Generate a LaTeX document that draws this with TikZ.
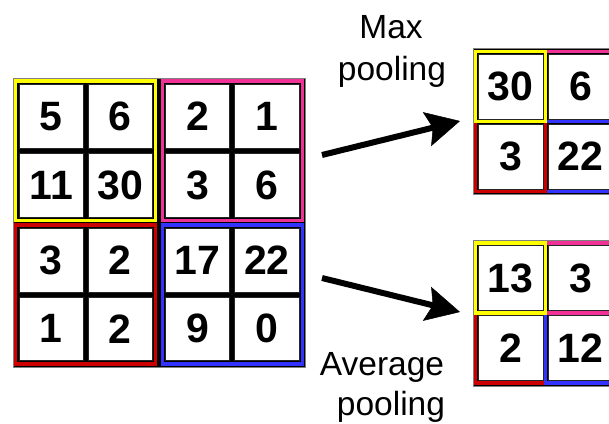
\documentclass[tikz,border=0pt]{standalone}
\usepackage{fontspec}
\setmainfont{Liberation Sans}
\usetikzlibrary{arrows.meta}

\definecolor{qyellow}{RGB}{255,255,0}
\definecolor{qpink}{RGB}{240,50,150}
\definecolor{qred}{RGB}{204,0,0}
\definecolor{qblue}{RGB}{51,51,255}

\tikzset{
  gridbg/.style={fill=black, draw=black!50, line width=0.8pt},
  colframe/.style={draw=#1, line width=3.4pt},
  cellnode/.style={fill=white, draw=black!85, line width=0.8pt, inner sep=0pt,
    font=\fontsize{41}{41}\selectfont\bfseries},
  lbl/.style={font=\fontsize{33.5}{41}\selectfont, anchor=base, inner sep=0pt},
  poolarrow/.style={line width=6pt,
    -{Stealth[length=34pt, width=35pt, inset=6pt, line width=0.5pt]}},
}

\begin{document}
\begin{tikzpicture}[x=1pt, y=-1pt]
\clip (0,0) rectangle (609,423);
\fill[white] (0,0) rectangle (609,423);

% ---- input feature map: four 2x2 blocks ----
\draw[gridbg] (13,78) rectangle (305,367);
\foreach \c/\xa/\ya/\xb/\yb/\na/\nb/\nc/\nd in {
    qyellow/15.75/81/155.75/220.5/5/6/11/30,
    qpink/162.25/81/302.25/220.5/2/1/3/6,
    qred/15.75/225/155.75/364/3/2/1/2,
    qblue/162.25/225/302.25/364/17/22/9/0} {
  \draw[colframe=\c] (\xa,\ya) rectangle (\xb,\yb);
  \pgfmathsetmacro\w{(\xb-\xa-11.6)/2}
  \pgfmathsetmacro\h{(\yb-\ya-11.6)/2}
  \pgfmathsetmacro\cxa{\xa+3.3+\w/2}
  \pgfmathsetmacro\cxb{\xb-3.3-\w/2}
  \pgfmathsetmacro\cya{\ya+3.3+\h/2}
  \pgfmathsetmacro\cyb{\yb-3.3-\h/2}
  \node[cellnode, minimum width=\w pt, minimum height=\h pt] (in-\c-1) at (\cxa,\cya) {\na};
  \node[cellnode, minimum width=\w pt, minimum height=\h pt] (in-\c-2) at (\cxb,\cya) {\nb};
  \node[cellnode, minimum width=\w pt, minimum height=\h pt] (in-\c-3) at (\cxa,\cyb) {\nc};
  \node[cellnode, minimum width=\w pt, minimum height=\h pt] (in-\c-4) at (\cxb,\cyb) {\nd};
}

% ---- max pooling result ----
\draw[gridbg] (473,48.5) rectangle (622,194.5);
\draw[colframe=qpink]   (545.5,51.5)  rectangle (615.5,121.5);
\draw[colframe=qblue]   (545.5,121.5) rectangle (615.5,191.5);
\draw[colframe=qred]    (475.5,121.5) rectangle (545.5,191.5);
\draw[colframe=qyellow] (475.5,51.5)  rectangle (545.5,121.5);
\node[cellnode, minimum width=65pt, minimum height=65pt] (mx-1) at (510.5,86.5)  {30};
\node[cellnode, minimum width=65pt, minimum height=65pt] (mx-2) at (580.5,86.5)  {6};
\node[cellnode, minimum width=65pt, minimum height=65pt] (mx-3) at (510.5,156.5) {3};
\node[cellnode, minimum width=65pt, minimum height=65pt] (mx-4) at (580.5,156.5) {22};

% ---- average pooling result ----
\draw[gridbg] (473,240) rectangle (622,386);
\draw[colframe=qred]    (475.5,313) rectangle (545.5,383);
\draw[colframe=qblue]   (545.5,313) rectangle (615.5,383);
\draw[colframe=qpink]   (545.5,243) rectangle (615.5,313);
\draw[colframe=qyellow] (475.5,243) rectangle (545.5,313);
\node[cellnode, minimum width=65pt, minimum height=65pt] (av-1) at (510.5,278) {13};
\node[cellnode, minimum width=65pt, minimum height=65pt] (av-2) at (580.5,278) {3};
\node[cellnode, minimum width=65pt, minimum height=65pt] (av-3) at (510.5,348) {2};
\node[cellnode, minimum width=65pt, minimum height=65pt] (av-4) at (580.5,348) {12};

% ---- labels ----
\node[lbl] (maxa) at (391,38)  {Max};
\node[lbl] (maxb) at (392,80)  {pooling};
\node[lbl] (avga) at (382,375) {Average};
\node[lbl] (avgb) at (391,415) {pooling};

% ---- arrows ----
\coordinate (mxs) at (322,155);
\coordinate (mxe) at (460,121);
\coordinate (avs) at (322,278);
\coordinate (ave) at (460,312);
\draw[poolarrow] (mxs) -- (mxe);
\draw[poolarrow] (avs) -- (ave);
\end{tikzpicture}
\end{document}
